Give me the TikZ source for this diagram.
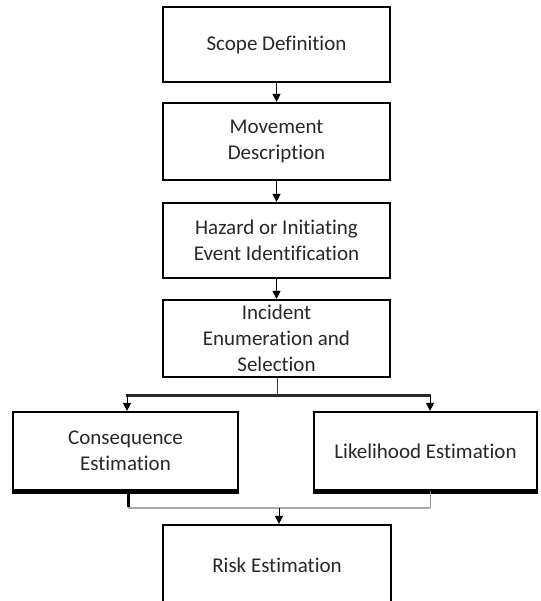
\documentclass[tikz,border=0pt]{standalone}
\usepackage{fontspec}
\setmainfont{Carlito}[Ligatures=NoCommon,RawFeature={-liga;-clig}]
\usetikzlibrary{arrows.meta,calc}
\definecolor{txt}{RGB}{40,40,40}
\definecolor{splitc}{RGB}{40,40,40}
\definecolor{mergec}{RGB}{170,170,170}
\definecolor{mergeo}{RGB}{120,120,120}
\definecolor{thinc}{RGB}{60,60,60}
\definecolor{thinr}{RGB}{150,150,150}
\tikzset{
  box/.style={draw=black, line width=2.2pt, fill=white, rectangle, align=center,
    text=txt, inner sep=0pt, font=\fontsize{21}{26}\selectfont},
  arr/.style={line width=1pt, -{Triangle[width=8pt,length=8pt]}},
  splitbar/.style={line width=3pt, draw=splitc},
  mergebar/.style={line width=2pt, draw=mergec},
  thinline/.style={line width=1pt, draw=thinc}
}
\begin{document}
\begin{tikzpicture}[x=1pt,y=-1pt]
\useasboundingbox (0,0) rectangle (540,601);
% central column
\node[box, minimum width=227pt, minimum height=75pt] (scope) at (276.5,44.5) {Scope Definition};
\node[box, minimum width=227pt, minimum height=77pt] (move) at (276.5,141.5) {Movement\\Description};
\node[box, minimum width=227pt, minimum height=75pt] (hazard) at (276.5,240.5) {Hazard or Initiating\\Event Identification};
\node[box, minimum width=227pt, minimum height=77pt] (incident) at (276.5,338.5) {Incident\\Enumeration and\\Selection};
% two estimation boxes
\node[box, minimum width=225pt, minimum height=78pt] (cons) at (125.5,451) {Consequence\\Estimation};
\node[box, minimum width=223pt, minimum height=78pt] (like) at (425.5,451) {Likelihood Estimation};
% risk box (runs off the bottom)
\node[box, minimum width=228pt, minimum height=80pt] (risk) at (277,565) {Risk Estimation};
% heavier bottom edges
\draw[line width=3pt] ([yshift=-1.2pt]cons.south west) -- ([yshift=-1.2pt]cons.south east);
\draw[line width=3pt] ([yshift=-1.2pt]like.south west) -- ([yshift=-1.2pt]like.south east);
% straight arrows
\draw[arr] (scope.south) -- (move.north);
\draw[arr] (move.south) -- (hazard.north);
\draw[arr] (hazard.south) -- (incident.north);
% split
\coordinate (sm) at (277,395);
\coordinate (sl) at (127,395);
\coordinate (sr) at (430,395);
\draw[thinline] (incident.south -| sm) -- (sm);
\draw[splitbar] ([xshift=-1pt]sl) -- ([xshift=1pt]sr);
\draw[arr] (sl) -- (sl |- cons.north);
\draw[arr] (sr) -- (sr |- like.north);
% merge
\coordinate (ml) at (128,508);
\coordinate (mr) at (430,508);
\coordinate (mm) at (279,508);
\draw[line width=3pt] (ml |- cons.south) -- ([yshift=1pt]ml);
\draw[line width=1pt, draw=thinr] (mr |- like.south) -- (mr);
\draw[line width=2.6pt, draw=mergeo] (ml) -- (mr);
\draw[mergebar] (ml) -- (mr);
\draw[arr] (mm) -- (mm |- risk.north);
\end{tikzpicture}
\end{document}
